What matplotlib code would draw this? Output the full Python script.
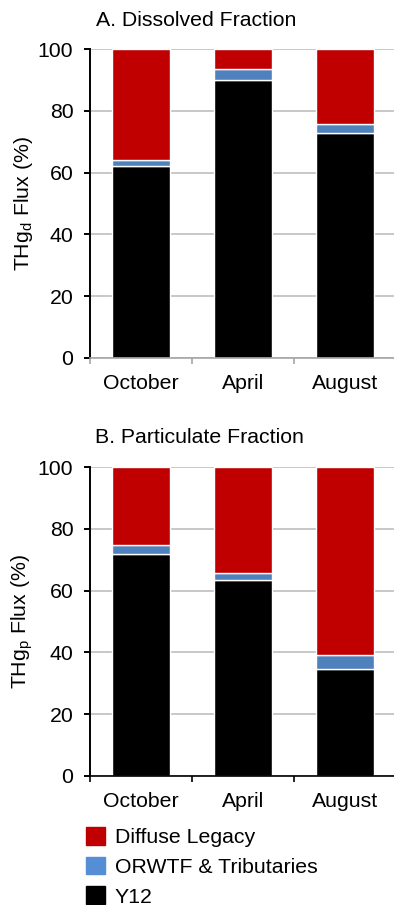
import matplotlib
matplotlib.use('Agg')
import matplotlib.pyplot as plt
from matplotlib.patches import Patch
import numpy as np

plt.rcParams['font.family'] = ['Liberation Sans', 'DejaVu Sans']
plt.rcParams['mathtext.default'] = 'regular'
plt.rcParams['font.size'] = 15.3

months = ['October', 'April', 'August']
series = ['Diffuse Legacy', 'ORWTF & Tributaries', 'Y12']

# dissolved fraction (%)
diss_y12 = [62.0, 90.0, 72.8]
diss_orwtf = [2.0, 3.7, 3.0]
diss_diffuse = [36.0, 6.3, 24.2]

# particulate fraction (%)
part_y12 = [72.0, 63.6, 34.5]
part_orwtf = [2.7, 2.2, 4.5]
part_diffuse = [25.3, 34.2, 61.0]

red = '#C00000'
blue = '#4F81BD'
W, H = 394, 905


def panel(ax, y12, orwtf, diffuse, ylab, spine_col):
    x = np.arange(len(months))
    y12 = np.array(y12)
    orwtf = np.array(orwtf)
    ax.bar(x, y12, 0.56, color='black', edgecolor='white', lw=1, zorder=3)
    ax.bar(x, orwtf, 0.56, bottom=y12, color=blue, edgecolor='white', lw=1, zorder=3)
    ax.bar(x, diffuse, 0.56, bottom=y12 + orwtf, color=red, edgecolor='white', lw=1, zorder=3)
    ax.set_xlim(-0.5, 2.5)
    ax.set_ylim(0, 100)
    ax.set_yticks(range(0, 101, 20))
    ax.yaxis.grid(True, color='#BFBFBF', lw=1.2, zorder=0)
    ax.set_axisbelow(True)
    for s in ['top', 'right']:
        ax.spines[s].set_visible(False)
    ax.spines['left'].set_linewidth(1.4)
    ax.spines['bottom'].set_color(spine_col)
    ax.spines['bottom'].set_linewidth(1.2)
    ax.spines['bottom'].set_zorder(4)
    ax.set_xticks(x)
    ax.set_xticklabels(months)
    ax.set_xticks([-0.5, 0.5, 1.5, 2.5], minor=True)
    ax.tick_params(axis='x', which='major', length=0, pad=12)
    ax.tick_params(axis='x', which='minor', length=4, width=1.2, color=spine_col)
    ax.tick_params(axis='y', length=4, width=1.4, pad=8)
    ax.set_ylabel(ylab)
    ax.yaxis.set_label_coords(-0.18, 0.5)


fig = plt.figure(figsize=(W / 100, H / 100), dpi=100)
ax1 = fig.add_axes([90 / W, 1 - 357.7 / H, 306 / W, 308.4 / H])
ax2 = fig.add_axes([90 / W, 1 - 775.7 / H, 306 / W, 308.4 / H])

panel(ax1, diss_y12, diss_orwtf, diss_diffuse, 'THg$_d$ Flux (%)', '#A6A6A6')
panel(ax2, part_y12, part_orwtf, part_diffuse, 'THg$_p$ Flux (%)', 'black')

fig.text(96 / W, 1 - 21 / H, 'A. Dissolved Fraction', ha='left', va='center')
fig.text(95 / W, 1 - 437 / H, 'B. Particulate Fraction', ha='left', va='center')

handles = [Patch(color=red), Patch(color='#558ED5'), Patch(color='black')]
fig.legend(handles, series, loc='upper left', bbox_to_anchor=(86 / W, 1 - 827 / H),
           frameon=False, handlelength=0.9, handleheight=0.9, handletextpad=0.45,
           labelspacing=0.45, borderpad=0, borderaxespad=0)

fig.savefig('out.png', dpi=100)
